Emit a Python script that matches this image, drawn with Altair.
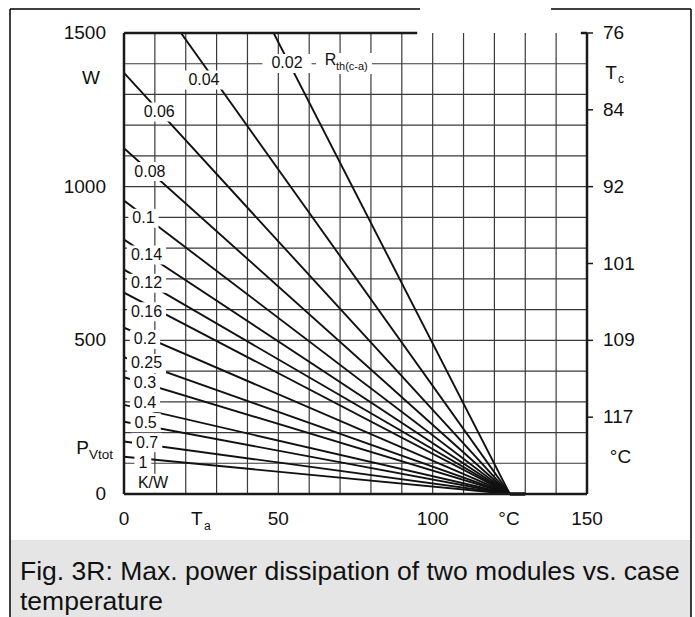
import altair as alt
import pandas as pd

# ---------------- data ----------------
rth_labels = ["0.02", "0.04", "0.06", "0.08", "0.1", "0.14", "0.12", "0.16",
              "0.2", "0.25", "0.3", "0.4", "0.5", "0.7", "1"]
# power at Ta = 0 °C for each line (W); every line reaches 0 W at 125 °C
p_at_ta0 = [2450, 1760, 1370, 1125, 955, 828, 730, 655, 541, 445, 380, 290, 235, 171, 121]
ta_zero_power = 125

# where each line's label sits (Ta in °C, P in W)
label_ta = [52.8, 25.9, 11.4, 8.4, 6.3, 7.3, 7.3, 7.3, 6.8, 7.3, 6.8, 6.8, 7.0, 7.5, 6.1]
label_p = [1401, 1347, 1243, 1049, 897, 778, 686, 593, 503, 425, 360, 297, 232, 167, 101]
unit_label = "K/W"
unit_ta, unit_p = 9.4, 35

x_ticks = [0, 50, 100, 150]
y_ticks = [0, 500, 1000, 1500]
tc_ticks_p = [1500, 1250, 1000, 750, 500, 250]
tc_labels = ["76", "84", "92", "101", "109", "117"]
grid_ta = [10, 20, 30, 40, 50, 60, 70, 80, 90, 100, 110, 120, 130, 140]
grid_p = [100, 200, 300, 400, 500, 600, 700, 800, 900, 1000, 1100, 1200, 1300, 1400]

caption1 = "Fig. 3R: Max. power dissipation of two modules vs. case"
caption2 = "temperature"

# ---------------- layout ----------------
W, H = 463, 461
XMAX, YMAX = 150, 1500
PXX = W / XMAX
PXY = H / YMAX
FONT = "Liberation Sans"

xs = alt.Scale(domain=[0, XMAX], nice=False, zero=False)
ys = alt.Scale(domain=[0, YMAX], nice=False, zero=False)


def X(field):
    return alt.X(field, type="quantitative", scale=xs, axis=None)


def Y(field):
    return alt.Y(field, type="quantitative", scale=ys, axis=None)


CW = {"0": .556, "1": .556, "2": .556, "3": .556, "4": .556, "5": .556, "6": .556,
      "7": .556, "8": .556, "9": .556, ".": .278, "K": .667, "/": .278, "W": .944}


def text_w(s, fs):
    return sum(CW.get(c, .556) for c in s) * fs


one = pd.DataFrame({"k": [0]})


def txt(s, x, y, fs, align="center", baseline="middle"):
    return alt.Chart(pd.DataFrame({"t": [s]})).mark_text(
        font=FONT, fontSize=fs, color="#111", align=align, baseline=baseline
    ).encode(x=alt.value(x), y=alt.value(y), text="t:N")


# ---------------- caption & outer frame ----------------
caption_bg = alt.Chart(one).mark_rect(color="#e5e5e5").encode(
    x=alt.value(-114), x2=alt.value(567), y=alt.value(507), y2=alt.value(590))
caption_txt = [
    txt(caption1, -104, 547, 26.5, align="left", baseline="alphabetic"),
    txt(caption2, -104, 577, 26.5, align="left", baseline="alphabetic"),
]

frame_segments = [(-114, 296, -24, -24), (427, 567, -24, -24),
                  (-114, -114, -24, 590), (567, 567, -24, 590)]
outer = [alt.Chart(one).mark_rule(color="#000", strokeWidth=1.5).encode(
    x=alt.value(a), x2=alt.value(b), y=alt.value(c), y2=alt.value(d))
    for a, b, c, d in frame_segments]

# ---------------- grid ----------------
vgrid = alt.Chart(pd.DataFrame({"ta": grid_ta})).mark_rule(color="#3a3a3a", strokeWidth=1.2).encode(x=X("ta"))
hgrid = alt.Chart(pd.DataFrame({"p": grid_p})).mark_rule(color="#3a3a3a", strokeWidth=1.2).encode(y=Y("p"))

# ---------------- derating lines ----------------
rows = []
for lab, p0 in zip(rth_labels, p_at_ta0):
    rows.append({"r": lab, "ta": 0, "p": p0})
    rows.append({"r": lab, "ta": ta_zero_power, "p": 0})
lines = alt.Chart(pd.DataFrame(rows)).mark_line(color="#111", strokeWidth=1.9, clip=True).encode(
    x=X("ta"), y=Y("p"), detail="r:N")

conv = alt.Chart(pd.DataFrame({"a": [ta_zero_power], "b": [130], "p": [0]})).mark_rule(
    color="#111", strokeWidth=3.5).encode(x=X("a"), x2="b:Q", y=Y("p"))

# ---------------- line labels with white boxes ----------------
lab_rows = []
for lab, ta, p in zip(rth_labels + [unit_label], label_ta + [unit_ta], label_p + [unit_p]):
    pad = 9 if lab == "0.02" else 4
    bw = text_w(lab, 16) / 2 + pad
    lab_rows.append({"t": lab, "ta": ta, "p": p,
                     "x0": ta - bw / PXX, "x1": ta + bw / PXX,
                     "y0": p - 9.5 / PXY, "y1": p + 9.5 / PXY})
labdf = pd.DataFrame(lab_rows)
boxes = alt.Chart(labdf).mark_rect(color="white").encode(x=X("x0"), x2="x1:Q", y=Y("y0"), y2="y1:Q")
labels = alt.Chart(labdf).mark_text(font=FONT, fontSize=16, color="#111", baseline="middle").encode(
    x=X("ta"), y=Y("p"), text="t:N")

rbox = alt.Chart(one).mark_rect(color="white").encode(
    x=alt.value(192), x2=alt.value(248), y=alt.value(20), y2=alt.value(41))
rlabel = [txt("R", 206.5, 27, 16), txt("th(c-a)", 212, 34, 11, align="left")]

# ---------------- plot border ----------------
border_df = pd.DataFrame({
    "x": [0, 150, 0, 0, 148],
    "x2": [0, 150, 150, 95, 150],
    "y": [0, 0, 0, 1500, 1500],
    "y2": [1500, 1500, 0, 1500, 1500],
})
border = alt.Chart(border_df).mark_rule(color="#1a1a1a", strokeWidth=2.5).encode(
    x=X("x"), x2="x2:Q", y=Y("y"), y2="y2:Q")

# ---------------- tick labels ----------------
left_lab = alt.Chart(pd.DataFrame({"p": y_ticks, "t": [str(v) for v in y_ticks]})).mark_text(
    font=FONT, fontSize=19, color="#111", align="right", baseline="middle").encode(
    x=alt.value(-18), y=Y("p"), text="t:N")
bottom_lab = alt.Chart(pd.DataFrame({"ta": x_ticks, "t": [str(v) for v in x_ticks]})).mark_text(
    font=FONT, fontSize=19, color="#111", align="center", baseline="middle").encode(
    x=X("ta"), y=alt.value(486), text="t:N")
right_df = pd.DataFrame({"p": tc_ticks_p, "t": tc_labels})
right_lab = alt.Chart(right_df).mark_text(
    font=FONT, fontSize=19, color="#111", align="left", baseline="middle").encode(
    x=alt.value(479), y=Y("p"), text="t:N")
right_ticks = alt.Chart(right_df).mark_rule(color="#1a1a1a", strokeWidth=1.5).encode(
    x=alt.value(463), x2=alt.value(469), y=Y("p"))

titles = [
    txt("W", -33, 45, 19),
    txt("P", -35, 415, 19, align="right"),
    txt("Vtot", -35, 422, 13.5, align="left"),
    txt("T", 72.7, 486, 19),
    txt("a", 80, 493, 12, align="left"),
    txt("°C", 385, 486, 19),
    txt("T", 487, 40, 19),
    txt("c", 494, 46, 12, align="left"),
    txt("°C", 496.5, 424, 19),
]

chart = alt.layer(
    caption_bg, *caption_txt, *outer,
    vgrid, hgrid, lines, conv, boxes, labels, rbox, *rlabel,
    border, left_lab, bottom_lab, right_lab, right_ticks, *titles
).properties(
    width=W, height=H,
    padding={"left": 124, "top": 33, "right": 108, "bottom": 123},
    autosize=alt.AutoSizeParams(type="none"),
    background="white",
).configure_view(stroke=None)

chart.save("out.html", embed_options={"renderer": "svg", "actions": False})
